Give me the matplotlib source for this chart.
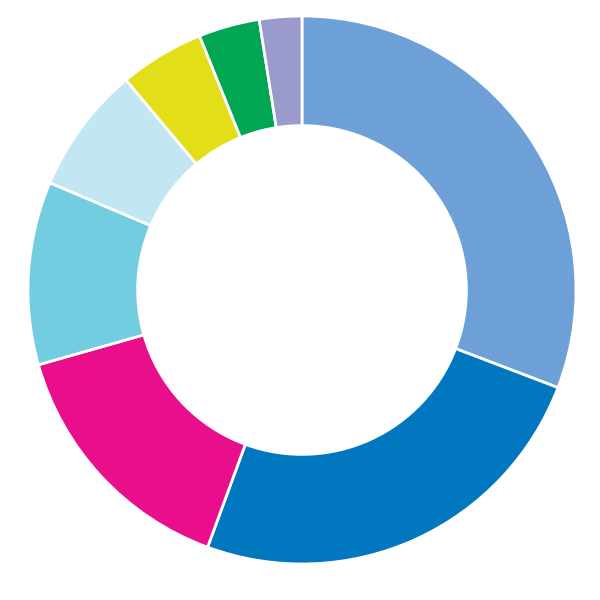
import matplotlib
matplotlib.use("Agg")
import matplotlib.pyplot as plt

# slice shares (percent), clockwise from 12 o'clock
shares = [30.8, 24.8, 15.0, 10.8, 7.5, 5.0, 3.6, 2.5]
colors = ["#6CA0D6", "#0077BF", "#E80E8C", "#73CDE0",
          "#C2E6F2", "#E2DF19", "#00A651", "#9A9ACD"]

fig = plt.figure(figsize=(6, 6), dpi=100)
ax = fig.add_axes([0, 0, 1, 1])
ax.pie(shares, colors=colors, startangle=90, counterclock=False,
       radius=1.0,
       wedgeprops=dict(width=0.4, edgecolor="white", linewidth=2))
r_px = 274
ax.set_xlim(-302 / r_px, 298 / r_px)
ax.set_ylim(-310 / r_px, 290 / r_px)
ax.set_aspect("equal")
ax.axis("off")
fig.savefig("out.png", dpi=100, facecolor="white")
